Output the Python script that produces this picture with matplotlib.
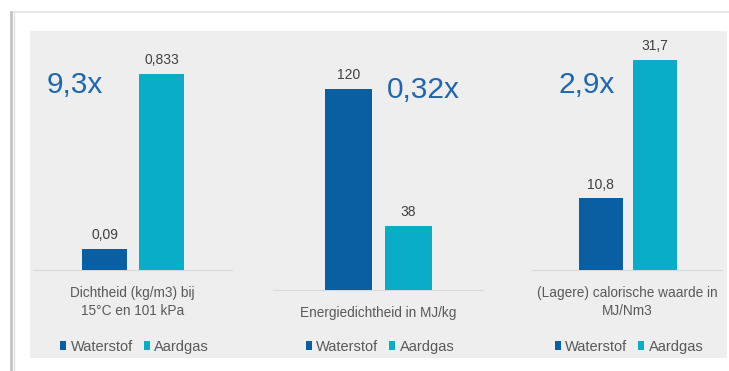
import matplotlib
matplotlib.use("Agg")
import matplotlib.pyplot as plt
from matplotlib.patches import Patch, Rectangle
from matplotlib.lines import Line2D

# Data
series = ["Waterstof", "Aardgas"]
metrics = [
    "Dichtheid (kg/m3) bij\n15°C en 101 kPa",
    "Energiedichtheid in MJ/kg",
    "(Lagere) calorische waarde in\nMJ/Nm3",
]
waterstof = [0.09, 120, 10.8]
aardgas = [0.833, 38, 31.7]
ratios = ["9,3x", "0,32x", "2,9x"]

colors = ["#0A5FA3", "#0AADC8"]
ratio_color = "#1E66AE"
value_color = "#404040"
label_color = "#595959"

plt.rcParams["font.family"] = ["Liberation Sans", "DejaVu Sans"]

W, H = 729, 371
fig = plt.figure(figsize=(W / 100, H / 100), dpi=100)
fig.patch.set_facecolor("white")


def fx(px):
    return px / W


def fy(py):
    return 1 - py / H


# Card, shadow and grey panel
fig.add_artist(Rectangle((fx(12), fy(371)), fx(729 - 12), (371 - 12) / H,
                         transform=fig.transFigure, facecolor="white",
                         edgecolor="none", zorder=0))
fig.add_artist(Line2D([fx(12), fx(729)], [fy(12), fy(12)], transform=fig.transFigure,
                      color="#E4E4E4", lw=1.2, zorder=1))
fig.add_artist(Line2D([fx(11.5), fx(11.5)], [fy(12), fy(371)], transform=fig.transFigure,
                      color="#C4C4C4", lw=2.0, zorder=1))
fig.add_artist(Line2D([fx(13.5), fx(13.5)], [fy(12), fy(371)], transform=fig.transFigure,
                      color="#E2E2E2", lw=1.0, zorder=1))
fig.add_artist(Rectangle((fx(30), fy(358)), fx(727 - 30), (358 - 31) / H,
                         transform=fig.transFigure, facecolor="#EEEEEE",
                         edgecolor="none", zorder=1))

# Panel geometry in pixels: axis left/right, baseline, top of tallest bar,
# bar centres, bar width, ratio label anchor
layout = [
    dict(x0=33, x1=232, base=270, top=74, c=(104.5, 161.5), w=45, rx=47, ry=85),
    dict(x0=273, x1=483, base=290, top=89, c=(348.5, 408.5), w=47, rx=387, ry=90),
    dict(x0=532, x1=722, base=270, top=60, c=(600.5, 655.0), w=44, rx=558, ry=85),
]


def fmt(v):
    return f"{v:g}".replace(".", ",")


for i, g in enumerate(layout):
    vals = [waterstof[i], aardgas[i]]
    ax = fig.add_axes([fx(g["x0"]), fy(g["base"]), fx(g["x1"] - g["x0"]),
                       (g["base"] - g["top"]) / H])
    ax.set_facecolor("none")
    ax.set_zorder(2)
    step = g["c"][1] - g["c"][0]
    ax.set_xlim(-(g["c"][0] - g["x0"]) / step, 1 + (g["x1"] - g["c"][1]) / step)
    ax.set_ylim(0, max(vals))
    ax.bar([0, 1], vals, width=g["w"] / step, color=colors, edgecolor="none", zorder=3)
    for xi, v in enumerate(vals):
        ax.annotate(fmt(v), (xi, v), xytext=(0, 5), textcoords="offset points",
                    ha="center", va="bottom", fontsize=10, color=value_color,
                    annotation_clip=False)
    for s in ["top", "right", "left"]:
        ax.spines[s].set_visible(False)
    ax.spines["bottom"].set_color("#D9D9D9")
    ax.spines["bottom"].set_linewidth(0.8)
    ax.set_xticks([])
    ax.set_yticks([])

    cx = fx((g["x0"] + g["x1"]) / 2)
    fig.text(cx, fy(g["base"] + 16.5), metrics[i], ha="center", va="top",
             fontsize=9.8, color=label_color, linespacing=1.3, zorder=4)
    fig.text(fx(g["rx"]), fy(g["ry"]), ratios[i], ha="left", va="center",
             fontsize=21.5, color=ratio_color, zorder=4)

    handles = [Patch(facecolor=colors[k], edgecolor="none", label=series[k]) for k in range(2)]
    leg = fig.legend(handles=handles, loc="center", ncol=2, frameon=False,
                     bbox_to_anchor=(cx + fx(2), fy(347)), bbox_transform=fig.transFigure,
                     fontsize=10.5, handlelength=0.42, handleheight=0.55,
                     handletextpad=0.3, columnspacing=0.75, borderpad=0)
    for t in leg.get_texts():
        t.set_color(label_color)

fig.savefig("out.png", dpi=100, facecolor="white")
